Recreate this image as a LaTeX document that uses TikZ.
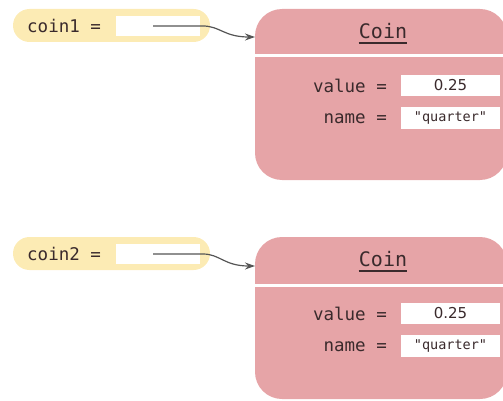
\documentclass[tikz,border=0pt]{standalone}
\usepackage{fontspec}
\setmainfont{DejaVu Sans}
\newfontfamily\monof{DejaVu Sans Mono}
\usetikzlibrary{arrows.meta}
\definecolor{varfill}{HTML}{FCEBB4}
\definecolor{objfill}{HTML}{E6A4A7}
\definecolor{txt}{HTML}{3A2A2C}
\definecolor{arr}{HTML}{555555}
\tikzset{
  varcap/.style={fill=varfill, rounded corners=16.5pt, minimum width=197pt, minimum height=33pt, inner sep=0pt},
  objbox/.style={fill=objfill, rounded corners=27pt, inner sep=0pt},
  wbox/.style={fill=white, inner sep=0pt, text=txt},
  lbl/.style={text=txt, inner sep=0pt, font=\monof\fontsize{17.5}{20}\selectfont},
  head/.style={text=txt, inner sep=0pt, font=\monof\fontsize{20}{22}\selectfont},
  ref/.style={draw=arr, line width=1.2pt, -{Stealth[length=10pt,width=7pt]}},
  sep/.style={draw=white, line width=3pt},
  uline/.style={draw=txt, line width=1.2pt}
}
\begin{document}
\begin{tikzpicture}[x=1pt,y=-1pt]
\useasboundingbox (0,0) rectangle (503,401);
% ---------- first pair ----------
\node[varcap] (var1) at (111.5,25.5) {};
\node[lbl, anchor=west] (v1t) at (27,25.5) {coin1 =};
\node[wbox, minimum width=84pt, minimum height=20pt] (box1) at (158,26) {};
\node[objbox, minimum width=252pt, minimum height=171pt] (obj1) at (381,94.5) {};
\coordinate (s1) at (153,26);
\coordinate (e1) at (255,37);
\draw[sep] (obj1.west |- 0,56) -- (obj1.east |- 0,56);
\node[head] (h1) at (383,31) {Coin};
\draw[uline] (h1.south west |- 0,43) -- (h1.south east |- 0,43);
\node[lbl, anchor=east] (val1l) at (387,86) {value =};
\node[wbox, minimum width=99pt, minimum height=21pt, font=\fontsize{15}{17}\selectfont] (val1) at (450.5,85.5) {0.25};
\node[lbl, anchor=east] (nam1l) at (387,119) {name =};
\node[wbox, minimum width=99pt, minimum height=22pt, font=\monof\fontsize{13.5}{16}\selectfont] (nam1) at (450.5,118) {"quarter"};
\draw[ref] (s1) -- (203,26) .. controls (220,26) and (224,37) .. (e1);
% ---------- second pair ----------
\node[varcap] (var2) at (111.5,253.5) {};
\node[lbl, anchor=west] (v2t) at (27,253.5) {coin2 =};
\node[wbox, minimum width=84pt, minimum height=20pt] (box2) at (158,254) {};
\node[objbox, minimum width=252pt, minimum height=162pt] (obj2) at (381,318) {};
\coordinate (s2) at (153,254);
\coordinate (e2) at (255,266);
\draw[sep] (obj2.west |- 0,285) -- (obj2.east |- 0,285);
\node[head] (h2) at (383,259) {Coin};
\draw[uline] (h2.south west |- 0,271) -- (h2.south east |- 0,271);
\node[lbl, anchor=east] (val2l) at (387,314) {value =};
\node[wbox, minimum width=99pt, minimum height=21pt, font=\fontsize{15}{17}\selectfont] (val2) at (450.5,313.5) {0.25};
\node[lbl, anchor=east] (nam2l) at (387,347) {name =};
\node[wbox, minimum width=99pt, minimum height=22pt, font=\monof\fontsize{13.5}{16}\selectfont] (nam2) at (450.5,346) {"quarter"};
\draw[ref] (s2) -- (203,254) .. controls (220,254) and (224,266) .. (e2);
\end{tikzpicture}
\end{document}
